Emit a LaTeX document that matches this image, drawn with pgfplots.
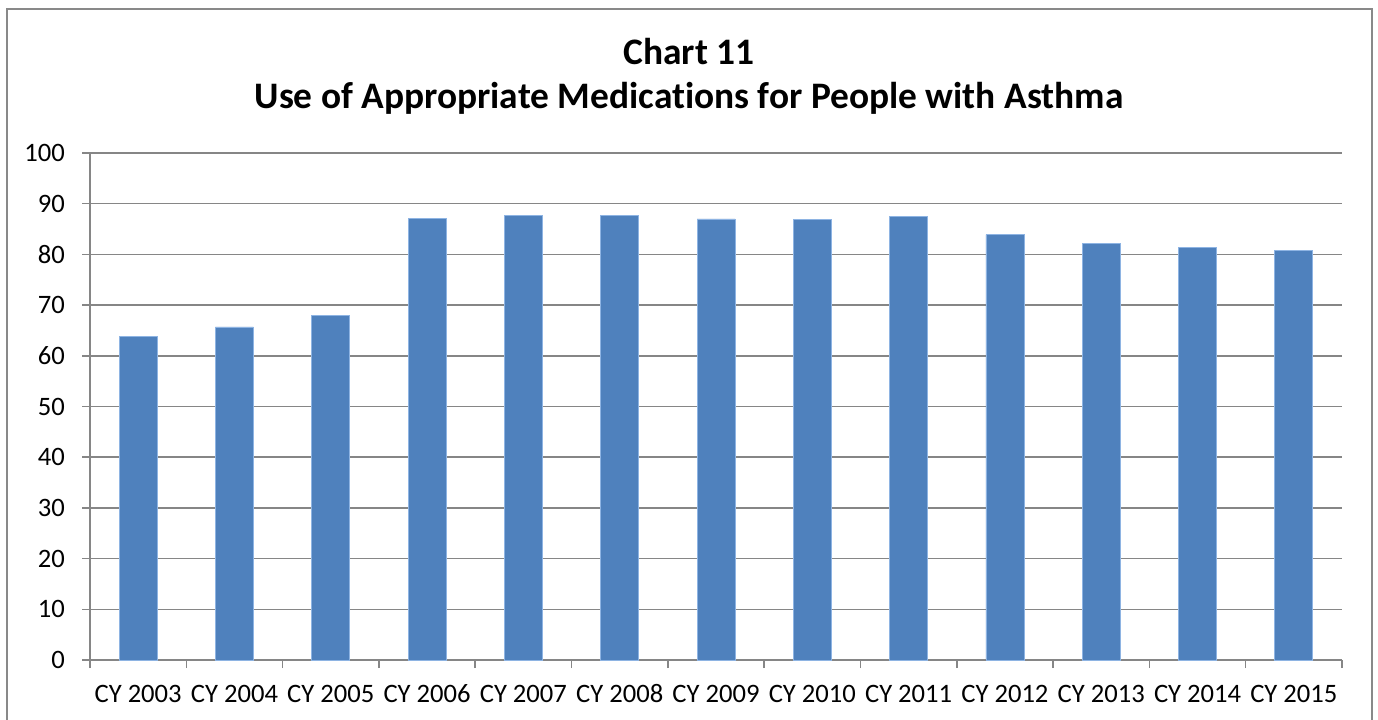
\documentclass[border=0pt]{standalone}
\usepackage{pgfplots}
\pgfplotsset{compat=1.18}
\usepackage{fontspec}
\setmainfont{Carlito}[Ligatures=NoCommon]
\definecolor{barblue}{HTML}{4F81BD}
\definecolor{baredge}{HTML}{8EB4E3}
\definecolor{gridgray}{HTML}{868686}
\definecolor{framegray}{HTML}{898989}

\pgfplotstableread{
idx value
0  63.9
1  65.7
2  68.0
3  87.1
4  87.6
5  87.6
6  87.0
7  86.9
8  87.5
9  83.9
10 82.2
11 81.3
12 80.7
}\asthmadata

\begin{document}
\begin{tikzpicture}
\useasboundingbox (0,0) rectangle (689pt,359.5pt);
\begin{scope}
\clip (0,0) rectangle (689pt,359.5pt);
\draw[framegray, line width=0.8pt] (3.5pt,-5pt) -- (3.5pt,355pt) -- (686pt,355pt) -- (686pt,-5pt);
\end{scope}
\node[font=\fontsize{18.7}{22}\selectfont\bfseries] at (344.5pt,333.5pt) {Chart 11};
\node[font=\fontsize{18.7}{22}\selectfont\bfseries] at (344.5pt,310.5pt) {Use of Appropriate Medications for People with Asthma};
\begin{axis}[
  at={(45pt,29.5pt)}, anchor=south west,
  scale only axis,
  width=626pt, height=253.5pt,
  xmin=-0.5, xmax=12.5,
  ymin=0, ymax=100,
  ytick={0,10,...,100},
  xtick={0,...,12},
  xticklabels={CY 2003,CY 2004,CY 2005,CY 2006,CY 2007,CY 2008,CY 2009,CY 2010,CY 2011,CY 2012,CY 2013,CY 2014,CY 2015},
  minor xtick={-0.5,0.5,...,12.5},
  axis x line*=bottom, axis y line*=left,
  axis line style={gridgray, line width=0.75pt, -},
  ymajorgrids,
  major grid style={gridgray, line width=0.75pt},
  every tick/.style={gridgray, line width=0.75pt},
  major x tick style={draw=none},
  xtick align=outside, ytick align=outside,
  major tick length=4pt, minor tick length=4pt,
  tick label style={font=\fontsize{13.3}{15}\selectfont, text=black},
  /pgf/number format/assume math mode=true,
  yticklabel style={xshift=-5pt},
  xticklabel style={yshift=-7pt, text height=1.4ex, text depth=0pt},
  clip=false,
]
\addplot[ybar, bar width=19pt, fill=barblue, draw=baredge, line width=0.4pt]
  table[x=idx, y=value] {\asthmadata};
\end{axis}
\end{tikzpicture}
\end{document}
